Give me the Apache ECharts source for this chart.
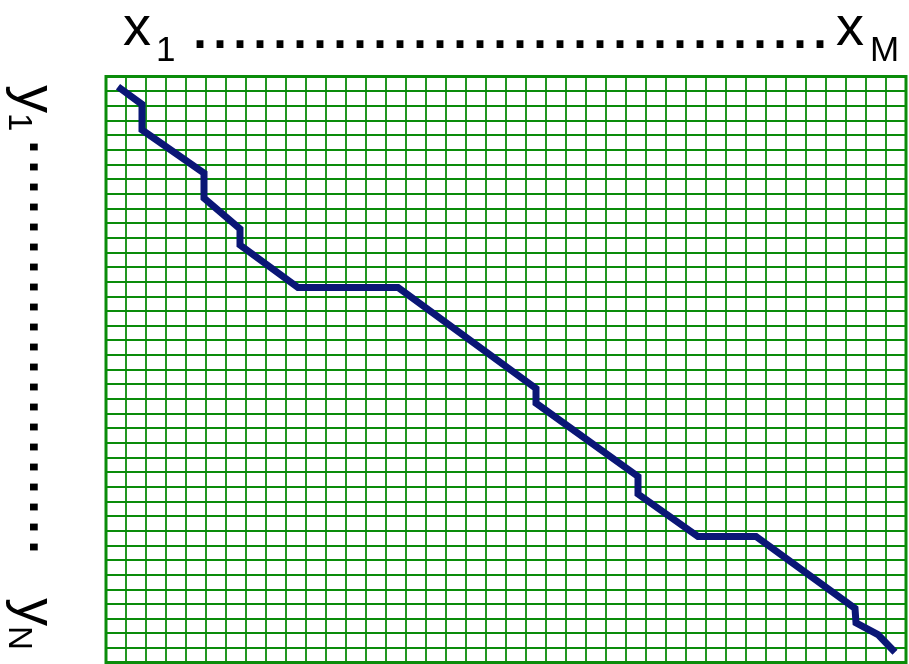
<!DOCTYPE html>
<html>
<head>
<meta charset="utf-8">
<script src="https://cdn.jsdelivr.net/npm/echarts@6/dist/echarts.min.js"></script>
<style>
html,body{margin:0;padding:0;background:#fff;}
#c{width:909px;height:664px;}
</style>
</head>
<body>
<div id="c"></div>
<script>
// grid size (cells along x = M, along y = N)
const nCols = 40;
const nRows = 40;
// warping path (cell units, x to the right, y downward)
const pathX = [0.6, 1.8, 1.8, 4.9, 4.9, 6.7, 6.7, 9.6, 14.6, 21.5, 21.5, 26.6, 26.6, 29.6, 32.5, 37.45, 37.5, 38.6, 39.45];
const pathY = [0.7, 1.9, 3.65, 6.6, 8.3, 10.4, 11.5, 14.4, 14.4, 21.3, 22.3, 27.3, 28.5, 31.4, 31.4, 36.3, 37.3, 38.1, 39.3];
// labels
const xLabelMain = 'x';
const xLabelFirst = '1';
const xLabelLast = 'M';
const yLabelMain = 'y';
const yLabelFirst = '1';
const yLabelLast = 'N';
const topDots = '................................';
const leftDots = '.....................';

const GREEN = '#0a8c0a';
const chart = echarts.init(document.getElementById('c'), null, {renderer: 'canvas'});
const FONT = 'Liberation Sans, Arial, sans-serif';

function txt(text, x, y, size, rot) {
  return {
    type: 'text', x: x, y: y, rotation: rot || 0, silent: true,
    style: {text: text, font: size + 'px ' + FONT, fill: '#000', textAlign: 'left', textVerticalAlign: 'middle'}
  };
}
const R = -Math.PI / 2;

chart.setOption({
  animation: false,
  backgroundColor: '#fff',
  grid: {left: 106, top: 76.5, width: 800, height: 586, show: true, borderColor: GREEN, borderWidth: 3, backgroundColor: 'transparent', z: 3},
  xAxis: {
    type: 'value', min: 0, max: nCols, interval: 1,
    axisLine: {show: false}, axisTick: {show: false}, axisLabel: {show: false},
    splitLine: {show: true, lineStyle: {color: GREEN, width: 1.8}}
  },
  yAxis: {
    type: 'value', min: 0, max: nRows, interval: 1, inverse: true,
    axisLine: {show: false}, axisTick: {show: false}, axisLabel: {show: false},
    splitLine: {show: true, lineStyle: {color: GREEN, width: 1.8}}
  },
  series: [{
    type: 'line',
    data: pathX.map((v, i) => [v, pathY[i]]),
    showSymbol: false, symbol: 'none',
    lineStyle: {color: '#0a1676', width: 7, join: 'miter'},
    z: 5
  }],
  graphic: [
    txt(xLabelMain, 123, 30, 56),
    txt(xLabelFirst, 156, 51.4, 35),
    txt(topDots, 190, 28, 72),
    txt(xLabelMain, 836, 30, 56),
    txt(xLabelLast, 870, 51.4, 35),
    txt(yLabelMain, 33, 85, 56, R),
    txt(yLabelFirst, 18, 113, 33, R),
    txt(leftDots, 50, 137, 72, R),
    txt(yLabelMain, 33, 598, 56, R),
    txt(yLabelLast, 18, 626, 33, R)
  ]
});
</script>
</body>
</html>
